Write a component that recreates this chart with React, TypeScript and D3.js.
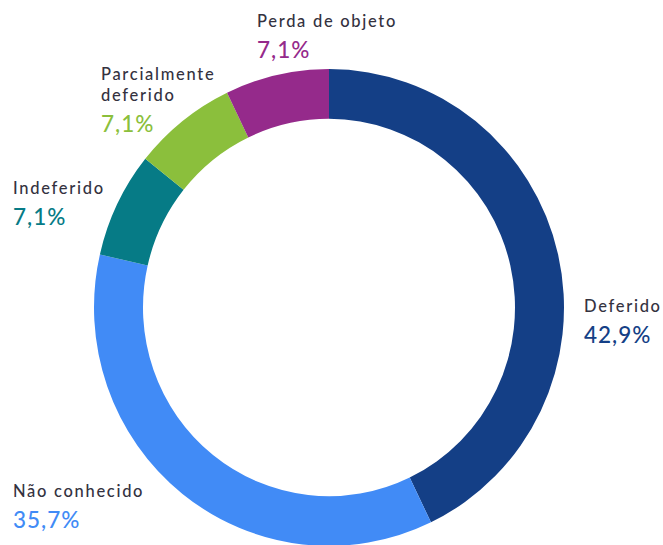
import React from "react";
import * as d3 from "d3";

const categories = ["Deferido", "Não conhecido", "Indeferido", "Parcialmente deferido", "Perda de objeto"];
const values = [6, 5, 1, 1, 1];
const percentLabels = ["42,9%", "35,7%", "7,1%", "7,1%", "7,1%"];
const labelLines = [["Deferido"], ["Não conhecido"], ["Indeferido"], ["Parcialmente", "deferido"], ["Perda de objeto"]];
const colors = ["#143f86", "#418bf6", "#067b86", "#8bbf3c", "#952a8b"];

const W = 663;
const H = 545;
const cx = 329;
const cy = 307.5;
const R = 235;
const r = 186;
const yScale = 1.0145;

// label anchor (x, baseline of first line)
const labelPos: [number, number][] = [
  [584, 312],
  [13, 497],
  [13, 194],
  [101, 80],
  [257, 27],
];

export default function App() {
  const pie = d3.pie<number>().sort(null).value((d) => d)(values);
  const arc = d3.arc<d3.PieArcDatum<number>>().innerRadius(r).outerRadius(R);
  const textColor = "#34323f";
  return (
    <svg width={W} height={H} style={{ position: "absolute", left: 0, top: 0 }}>
      <rect width={W} height={H} fill="#fff" />
      <g transform={`translate(${cx},${cy}) scale(1,${yScale})`}>
        {pie.map((p, i) => (
          <path key={i} d={arc(p) || ""} fill={colors[i]} />
        ))}
      </g>
      {categories.map((c, i) => {
        const [x, y] = labelPos[i];
        const lines = labelLines[i];
        return (
          <g key={c}>
            {lines.map((l, j) => (
              <text
                key={j}
                x={x}
                y={y + j * 21}
                fontFamily="Lato, sans-serif"
                fontSize={16.5}
                fontWeight={500}
                letterSpacing={1.7}
                fill={textColor}
              >
                {l}
              </text>
            ))}
            <text
              x={x}
              y={y + (lines.length - 1) * 21 + 31}
              fontFamily="Lato, sans-serif"
              fontSize={22.5}
              fontWeight={500}
              letterSpacing={1}
              fill={colors[i]}
            >
              {percentLabels[i]}
            </text>
          </g>
        );
      })}
    </svg>
  );
}
